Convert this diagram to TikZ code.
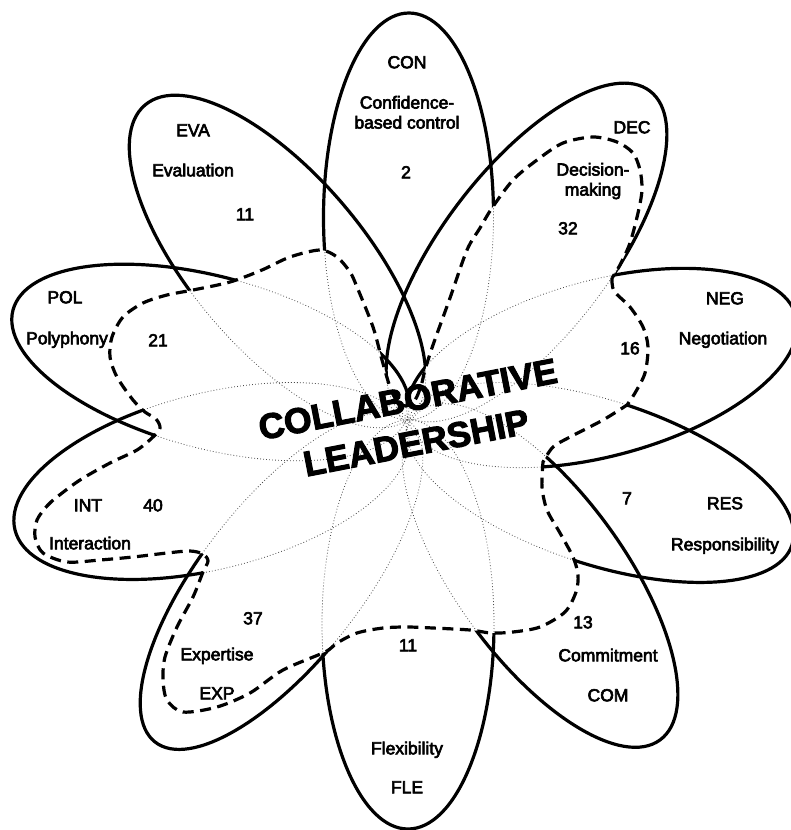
\documentclass[tikz,border=0pt]{standalone}
\usepackage{fontspec}
\setmainfont{Liberation Sans}
\newfontfamily\lblfont{Liberation Sans}[FakeBold=3.5]
\newfontfamily\ttlfont{Liberation Sans Bold}[FakeBold=3]
\tikzset{
  petaldot/.style={black!70, line width=0.8pt, dash pattern=on 0.8pt off 2.2pt},
  petalsolid/.style={black, line width=3.2pt},
  radarline/.style={black, line width=3.2pt, dash pattern=on 11pt off 6.5pt},
  lbl/.style={font=\lblfont\fontsize{17.5}{20}\selectfont, inner sep=0pt, anchor=base},
  lbltwo/.style={font=\lblfont\fontsize{17.5}{20}\selectfont, inner sep=0pt, anchor=north, align=center},
  titlebox/.style={font=\ttlfont\fontsize{35.5}{44.4}\selectfont, align=center, rotate=11, inner sep=0pt}
}
\def\radar{plot[smooth] coordinates {(612,278) (614,291) (630,307) (643,327) (648,347) (645,373) (635,393) (627,405)}
 -- plot[smooth] coordinates {(627,405) (603,420) (570,437) (553,447) (543,462)}
 -- plot[smooth] coordinates {(543,462) (542,487) (547,510) (560,533) (573,557) (578,575) (576,592) (565,612) (540,627) (513,632) (491,633) (470,630) (433,628) (407,627) (383,628) (357,633) (337,643) (325,652) (283,670) (250,693) (217,707) (183,712) (167,700) (163,680) (165,657) (177,627) (193,597) (203,572) (208,561) (203,554) (190,551) (167,553) (133,557) (100,560) (67,562) (43,553) (35,537) (37,520) (47,506) (57,497) (80,480) (110,463) (137,450) (153,437) (160,428) (156,419) (145,412) (133,400) (117,377) (110,357) (112,337) (123,317) (143,303) (167,295) (193,290) (230,282) (262,270) (290,257) (320,250) (337,257) (350,272) (357,287) (373,327) (382,360) (390,387) (397,401) (406,406) (415,400) (421,386) (425,370) (433,345) (450,298) (467,250) (480,228) (492,208) (513,180) (537,160) (563,143) (593,137) (617,142) (633,153) (640,170) (642,190) (638,213) (630,243) (620,265) (612,278)} -- cycle}
\def\petals{408/420/409/13/85, 403/414/650/91/84, 408/420/796/316/88, 408/420/792/545/82, 420/411/660/740/84, 408/420/408/829/86, 408/420/155/742/80, 408/432/15/530/88, 408/415/13/310/86, 410/418/145/105/87}
\begin{document}
\begin{tikzpicture}[x=1pt, y=-1pt]
\useasboundingbox (0,0) rectangle (791,830);
% inner (dotted) outlines of the petals
\foreach \ix/\iy/\tx/\ty/\bb in \petals {
  \pgfmathsetmacro\cx{(\ix+\tx)/2}
  \pgfmathsetmacro\cy{(\iy+\ty)/2}
  \pgfmathsetmacro\ang{atan2(\iy-\ty,\tx-\ix)}
  \pgfmathsetmacro\ra{veclen(\tx-\ix,\ty-\iy)/2}
  \draw[petaldot, shift={(\cx,\cy)}, rotate=\ang] (0,0) ellipse [x radius=\ra, y radius=\bb];
}
% outer (solid) outlines, outside the dashed curve
\begin{scope}
  \clip (-50,-50) -- (-50,900) -- (900,900) -- (900,-50) -- cycle \radar;
  \foreach \ix/\iy/\tx/\ty/\bb in \petals {
    \pgfmathsetmacro\cx{(\ix+\tx)/2}
    \pgfmathsetmacro\cy{(\iy+\ty)/2}
    \pgfmathsetmacro\ang{atan2(\iy-\ty,\tx-\ix)}
    \pgfmathsetmacro\ra{veclen(\tx-\ix,\ty-\iy)/2}
    \draw[petalsolid, shift={(\cx,\cy)}, rotate=\ang] (0,0) ellipse [x radius=\ra, y radius=\bb];
  }
\end{scope}
% dashed profile
\draw[radarline] \radar;
% labels
\node[lbl] (con) at (407,68.3) {CON};
\node[lbltwo] (conname) at (407,95.7) {Confidence-\\based control};
\node[lbl] (connum) at (406,178.3) {2};
\node[lbl] (dec) at (632,133.3) {DEC};
\node[lbltwo] (decname) at (593,162.7) {Decision-\\making};
\node[lbl] (decnum) at (568,234.3) {32};
\node[lbl] (neg) at (725,304.3) {NEG};
\node[lbl] (negname) at (723,344.3) {Negotiation};
\node[lbl] (negnum) at (630,354.3) {16};
\node[lbl] (res) at (725,509.3) {RES};
\node[lbl] (resname) at (725,550.3) {Responsibility};
\node[lbl] (resnum) at (627,504.3) {7};
\node[lbl] (comnum) at (583,628.3) {13};
\node[lbl] (comname) at (608,661.3) {Commitment};
\node[lbl] (com) at (608,701.3) {COM};
\node[lbl] (flenum) at (408,651.3) {11};
\node[lbl] (flename) at (407,754.3) {Flexibility};
\node[lbl] (fle) at (407,793.3) {FLE};
\node[lbl] (expnum) at (253,624.3) {37};
\node[lbl] (expname) at (217,660.3) {Expertise};
\node[lbl] (exp) at (217,699.3) {EXP};
\node[lbl] (int) at (88,511.3) {INT};
\node[lbl] (intnum) at (153,511.3) {40};
\node[lbl] (intname) at (90,549.3) {Interaction};
\node[lbl] (pol) at (65,303.3) {POL};
\node[lbl] (polname) at (67,344.3) {Polyphony};
\node[lbl] (polnum) at (158,346.3) {21};
\node[lbl] (eva) at (193,136.3) {EVA};
\node[lbl] (evaname) at (193,176.3) {Evaluation};
\node[lbl] (evanum) at (245,220.3) {11};
% title
\node[titlebox] (title) at (412,421) {COLLABORATIVE\\LEADERSHIP};
\end{tikzpicture}
\end{document}
